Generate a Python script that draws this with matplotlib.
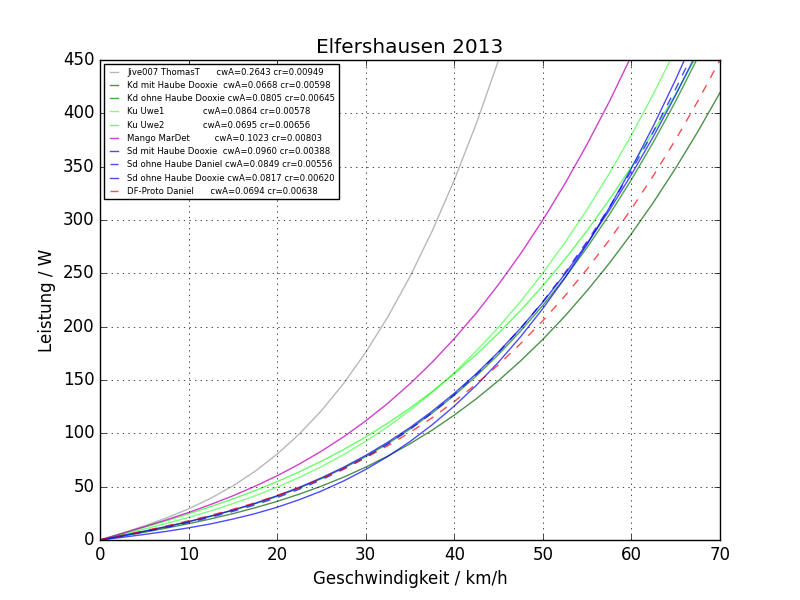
import matplotlib
matplotlib.use('Agg')
import matplotlib.pyplot as plt

plt.style.use('classic')

# speed in km/h
v = [0, 2.5, 5, 7.5, 10, 12.5, 15, 17.5, 20, 22.5, 25, 27.5, 30, 32.5, 35,
     37.5, 40, 42.5, 45, 47.5, 50, 52.5, 55, 57.5, 60, 62.5, 65, 67.5, 70]

# power in W (every 2.5 km/h)
p_jive = [0, 6.4, 13.2, 20.7, 29.2, 39.1, 50.7, 64.4, 80.5, 99.3, 121.3, 146.7,
          175.9, 209.2, 247.0, 289.6, 337.4, 390.7, 449.9, 515.3]
p_kd_mit = [0, 3.6, 7.3, 11.2, 15.3, 19.8, 24.7, 30.2, 36.2, 43.0, 50.5, 58.9,
            68.3, 78.7, 90.2, 103.0, 117.1, 132.5, 149.5, 168.0, 188.1, 210.0,
            233.8, 259.4, 287.1, 316.8, 348.7, 382.9, 419.4]
p_kd_ohne = [0, 4.0, 8.1, 12.5, 17.1, 22.2, 27.8, 34.0, 40.9, 48.7, 57.5, 67.3,
             78.2, 90.4, 104.0, 119.0, 135.6, 153.9, 174.0, 196.0, 220.0, 246.0,
             274.3, 304.9, 337.9, 373.4, 411.5, 452.4]
p_uwe1 = [0, 5.0, 10.2, 15.5, 21.2, 27.3, 34.1, 41.4, 49.6, 58.7, 68.8, 80.0,
          92.5, 106.3, 121.5, 138.4, 156.9, 177.3, 199.5, 223.8, 250.3, 278.9,
          310.0, 343.5, 379.6, 418.5, 460.1]
p_uwe2 = [0, 5.9, 11.9, 18.0, 24.5, 31.3, 38.5, 46.3, 54.7, 63.9, 73.9, 84.7,
          96.6, 109.6, 123.7, 139.1, 155.9, 174.1, 193.9, 215.3, 238.4, 263.3,
          290.1, 319.0, 349.9, 383.0, 418.3, 456.0]
p_mango = [0, 6.1, 12.4, 18.9, 25.8, 33.3, 41.4, 50.4, 60.2, 71.2, 83.3, 96.7,
           111.7, 128.2, 146.5, 166.6, 188.8, 213.0, 239.6, 268.5, 300.0, 334.1,
           371.1, 410.9, 453.9]
p_sd_mit = [0, 2.5, 5.2, 8.1, 11.4, 15.1, 19.6, 24.7, 30.7, 37.8, 45.9, 55.3,
            66.1, 78.4, 92.3, 108.0, 125.6, 145.1, 166.8, 190.7, 217.0, 245.8,
            277.3, 311.5, 348.5, 388.6, 431.8, 478.3]
p_sd_daniel = [0, 3.8, 7.7, 11.9, 16.4, 21.3, 26.8, 32.9, 39.8, 47.6, 56.4, 66.3,
               77.4, 89.9, 103.8, 119.2, 136.3, 155.2, 175.9, 198.7, 223.5, 250.6,
               280.0, 311.8, 346.2, 383.2, 423.0, 465.7]
p_sd_ohne = [0, 4.1, 8.2, 12.6, 17.3, 22.5, 28.1, 34.4, 41.5, 49.4, 58.3, 68.2,
             79.3, 91.7, 105.4, 120.7, 137.5, 156.1, 176.4, 198.7, 223.0, 249.4,
             278.1, 309.1, 342.6, 378.6, 417.3, 458.7]
p_df = [0, 4.3, 8.6, 13.2, 18.0, 23.1, 28.8, 34.9, 41.7, 49.2, 57.6, 66.8,
        77.1, 88.4, 100.9, 114.6, 129.8, 146.3, 164.4, 184.2, 205.6, 228.9,
        254.1, 281.2, 310.4, 341.9, 375.5, 411.5, 450.0]

labels = [
    'Jive007 ThomasT      cwA=0.2643 cr=0.00949',
    'Kd mit Haube Dooxie  cwA=0.0668 cr=0.00598',
    'Kd ohne Haube Dooxie cwA=0.0805 cr=0.00645',
    'Ku Uwe1              cwA=0.0864 cr=0.00578',
    'Ku Uwe2              cwA=0.0695 cr=0.00656',
    'Mango MarDet         cwA=0.1023 cr=0.00803',
    'Sd mit Haube Dooxie  cwA=0.0960 cr=0.00388',
    'Sd ohne Haube Daniel cwA=0.0849 cr=0.00556',
    'Sd ohne Haube Dooxie cwA=0.0817 cr=0.00620',
    'DF-Proto Daniel      cwA=0.0694 cr=0.00638',
]

series = [p_jive, p_kd_mit, p_kd_ohne, p_uwe1, p_uwe2, p_mango,
          p_sd_mit, p_sd_daniel, p_sd_ohne, p_df]
colors = ['#a0a0a0', '#006400', '#008000', 'lime', 'lime', '#c000c0',
          'b', 'b', 'b', 'r']
alphas = [0.75, 0.7, 0.7, 0.5, 0.6, 0.75, 0.7, 0.7, 0.7, 0.7]
styles = ['-', '-', '-', '-', '-', '-', '-', '--', '-', '--']

fig, ax = plt.subplots(figsize=(8, 6), dpi=100)
for p, lab, c, a, ls in zip(series, labels, colors, alphas, styles):
    ax.plot(v[:len(p)], p, color=c, alpha=a, linestyle=ls, linewidth=1, label=lab)

ax.set_xlim(0, 70)
ax.set_ylim(0, 450)
ax.set_xticks(range(0, 71, 10))
ax.set_yticks(range(0, 451, 50))
ax.grid(True)
ax.set_title('Elfershausen 2013')
ax.set_xlabel('Geschwindigkeit / km/h')
ax.set_ylabel('Leistung / W')
ax.legend(loc='upper left', fontsize=6.1, handlelength=1.5, borderpad=0.4,
          labelspacing=0.5, borderaxespad=0.5)

fig.savefig('out.png', dpi=100)
